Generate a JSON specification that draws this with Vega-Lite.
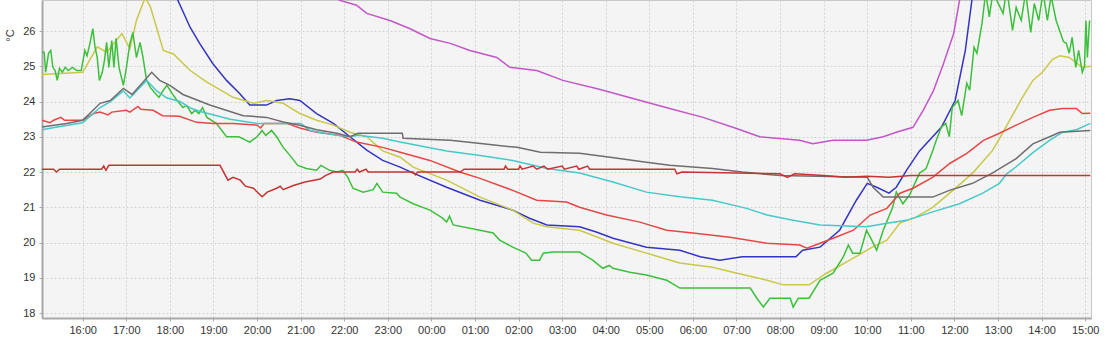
{
  "$schema": "https://vega.github.io/schema/vega-lite/v6.json",
  "width": 1049,
  "height": 318,
  "autosize": {"type": "none"},
  "padding": {"left": 42, "top": 0, "right": 19, "bottom": 22},
  "background": "#ffffff",
  "config": {
    "view": {"fill": "#f4f4f4", "stroke": "#c8c8c8"},
    "font": "Liberation Sans",
    "axis": {
      "labelFont": "Liberation Sans", "labelFontSize": 11, "labelColor": "#333333",
      "domainColor": "#a8a8a8", "domainWidth": 2, "tickColor": "#a8a8a8", "tickSize": 3,
      "gridColor": "#d4d4d4", "gridDash": [2, 2], "gridWidth": 1
    }
  },
  "data": {
    "values": [
      {"s":"mag","t":"2024-01-01T15:04","v":28.6},{"s":"mag","t":"2024-01-01T18:00","v":29.5},{"s":"mag","t":"2024-01-01T20:00","v":28.2},{"s":"mag","t":"2024-01-01T21:30","v":27.2},{"s":"mag","t":"2024-01-01T21:54","v":26.87},{"s":"mag","t":"2024-01-01T22:17","v":26.73},{"s":"mag","t":"2024-01-01T22:31","v":26.5},{"s":"mag","t":"2024-01-01T23:03","v":26.3},{"s":"mag","t":"2024-01-01T23:30","v":26.07},{"s":"mag","t":"2024-01-01T23:58","v":25.79},{"s":"mag","t":"2024-01-02T00:26","v":25.65},{"s":"mag","t":"2024-01-02T00:53","v":25.45},{"s":"mag","t":"2024-01-02T01:30","v":25.25},{"s":"mag","t":"2024-01-02T01:48","v":24.97},{"s":"mag","t":"2024-01-02T02:25","v":24.88},{"s":"mag","t":"2024-01-02T03:01","v":24.6},{"s":"mag","t":"2024-01-02T03:47","v":24.37},{"s":"mag","t":"2024-01-02T04:00","v":24.3},{"s":"mag","t":"2024-01-02T04:35","v":24.1},{"s":"mag","t":"2024-01-02T05:28","v":23.8},{"s":"mag","t":"2024-01-02T06:14","v":23.55},{"s":"mag","t":"2024-01-02T06:59","v":23.24},{"s":"mag","t":"2024-01-02T07:32","v":23.0},{"s":"mag","t":"2024-01-02T08:27","v":22.9},{"s":"mag","t":"2024-01-02T08:45","v":22.8},{"s":"mag","t":"2024-01-02T09:13","v":22.9},{"s":"mag","t":"2024-01-02T09:59","v":22.9},{"s":"mag","t":"2024-01-02T10:22","v":23.0},{"s":"mag","t":"2024-01-02T10:40","v":23.13},{"s":"mag","t":"2024-01-02T11:03","v":23.27},{"s":"mag","t":"2024-01-02T11:17","v":23.75},{"s":"mag","t":"2024-01-02T11:31","v":24.3},{"s":"mag","t":"2024-01-02T11:45","v":25.08},{"s":"mag","t":"2024-01-02T11:59","v":25.93},{"s":"mag","t":"2024-01-02T12:07","v":26.87},{"s":"mag","t":"2024-01-02T12:30","v":28.5},{"s":"mag","t":"2024-01-02T15:08","v":30},

      {"s":"blu","t":"2024-01-01T15:04","v":27.5},{"s":"blu","t":"2024-01-01T16:30","v":28.5},{"s":"blu","t":"2024-01-01T17:30","v":29.5},{"s":"blu","t":"2024-01-01T18:00","v":27.6},{"s":"blu","t":"2024-01-01T18:11","v":26.87},{"s":"blu","t":"2024-01-01T18:28","v":26.1},{"s":"blu","t":"2024-01-01T18:41","v":25.65},{"s":"blu","t":"2024-01-01T18:59","v":25.08},{"s":"blu","t":"2024-01-01T19:18","v":24.6},{"s":"blu","t":"2024-01-01T19:36","v":24.23},{"s":"blu","t":"2024-01-01T19:50","v":23.9},{"s":"blu","t":"2024-01-01T20:13","v":23.9},{"s":"blu","t":"2024-01-01T20:27","v":24.03},{"s":"blu","t":"2024-01-01T20:45","v":24.08},{"s":"blu","t":"2024-01-01T20:59","v":24.03},{"s":"blu","t":"2024-01-01T21:22","v":23.66},{"s":"blu","t":"2024-01-01T21:45","v":23.38},{"s":"blu","t":"2024-01-01T22:08","v":23.0},{"s":"blu","t":"2024-01-01T22:31","v":22.62},{"s":"blu","t":"2024-01-01T22:53","v":22.33},{"s":"blu","t":"2024-01-01T23:17","v":22.14},{"s":"blu","t":"2024-01-01T23:35","v":21.97},{"s":"blu","t":"2024-01-02T00:21","v":21.57},{"s":"blu","t":"2024-01-02T01:07","v":21.2},{"s":"blu","t":"2024-01-02T01:52","v":20.92},{"s":"blu","t":"2024-01-02T02:15","v":20.69},{"s":"blu","t":"2024-01-02T02:39","v":20.5},{"s":"blu","t":"2024-01-02T03:24","v":20.45},{"s":"blu","t":"2024-01-02T03:47","v":20.3},{"s":"blu","t":"2024-01-02T04:10","v":20.12},{"s":"blu","t":"2024-01-02T04:56","v":19.87},{"s":"blu","t":"2024-01-02T05:42","v":19.78},{"s":"blu","t":"2024-01-02T06:10","v":19.6},{"s":"blu","t":"2024-01-02T06:37","v":19.5},{"s":"blu","t":"2024-01-02T07:08","v":19.6},{"s":"blu","t":"2024-01-02T08:22","v":19.6},{"s":"blu","t":"2024-01-02T08:31","v":19.78},{"s":"blu","t":"2024-01-02T08:55","v":19.87},{"s":"blu","t":"2024-01-02T09:22","v":20.35},{"s":"blu","t":"2024-01-02T09:45","v":21.2},{"s":"blu","t":"2024-01-02T10:00","v":21.68},{"s":"blu","t":"2024-01-02T10:13","v":21.57},{"s":"blu","t":"2024-01-02T10:30","v":21.4},{"s":"blu","t":"2024-01-02T10:40","v":21.57},{"s":"blu","t":"2024-01-02T10:54","v":22.05},{"s":"blu","t":"2024-01-02T11:12","v":22.6},{"s":"blu","t":"2024-01-02T11:42","v":23.27},{"s":"blu","t":"2024-01-02T12:01","v":24.03},{"s":"blu","t":"2024-01-02T12:15","v":25.45},{"s":"blu","t":"2024-01-02T12:24","v":26.87},{"s":"blu","t":"2024-01-02T12:45","v":29},{"s":"blu","t":"2024-01-02T15:08","v":31},

      {"s":"yel","t":"2024-01-01T15:04","v":24.77},{"s":"yel","t":"2024-01-01T16:00","v":24.83},{"s":"yel","t":"2024-01-01T16:20","v":25.55},{"s":"yel","t":"2024-01-01T16:33","v":25.4},{"s":"yel","t":"2024-01-01T16:54","v":25.93},{"s":"yel","t":"2024-01-01T17:05","v":25.5},{"s":"yel","t":"2024-01-01T17:14","v":26.3},{"s":"yel","t":"2024-01-01T17:26","v":26.95},{"s":"yel","t":"2024-01-01T17:33","v":26.7},{"s":"yel","t":"2024-01-01T17:51","v":25.45},{"s":"yel","t":"2024-01-01T18:05","v":25.35},{"s":"yel","t":"2024-01-01T18:28","v":24.88},{"s":"yel","t":"2024-01-01T18:51","v":24.55},{"s":"yel","t":"2024-01-01T19:27","v":24.12},{"s":"yel","t":"2024-01-01T19:55","v":23.95},{"s":"yel","t":"2024-01-01T20:13","v":24.03},{"s":"yel","t":"2024-01-01T20:36","v":23.95},{"s":"yel","t":"2024-01-01T20:59","v":23.66},{"s":"yel","t":"2024-01-01T21:22","v":23.47},{"s":"yel","t":"2024-01-01T21:45","v":23.33},{"s":"yel","t":"2024-01-01T22:08","v":23.13},{"s":"yel","t":"2024-01-01T22:31","v":23.0},{"s":"yel","t":"2024-01-01T22:53","v":22.6},{"s":"yel","t":"2024-01-01T23:17","v":22.42},{"s":"yel","t":"2024-01-01T23:35","v":22.14},{"s":"yel","t":"2024-01-02T00:21","v":21.77},{"s":"yel","t":"2024-01-02T01:07","v":21.29},{"s":"yel","t":"2024-01-02T01:52","v":20.92},{"s":"yel","t":"2024-01-02T02:20","v":20.55},{"s":"yel","t":"2024-01-02T02:39","v":20.45},{"s":"yel","t":"2024-01-02T03:24","v":20.35},{"s":"yel","t":"2024-01-02T04:10","v":19.98},{"s":"yel","t":"2024-01-02T04:56","v":19.7},{"s":"yel","t":"2024-01-02T05:42","v":19.42},{"s":"yel","t":"2024-01-02T06:27","v":19.3},{"s":"yel","t":"2024-01-02T06:55","v":19.16},{"s":"yel","t":"2024-01-02T07:42","v":18.93},{"s":"yel","t":"2024-01-02T08:05","v":18.8},{"s":"yel","t":"2024-01-02T08:40","v":18.8},{"s":"yel","t":"2024-01-02T09:04","v":19.13},{"s":"yel","t":"2024-01-02T09:36","v":19.5},{"s":"yel","t":"2024-01-02T10:07","v":19.87},{"s":"yel","t":"2024-01-02T10:27","v":20.07},{"s":"yel","t":"2024-01-02T10:45","v":20.55},{"s":"yel","t":"2024-01-02T11:07","v":20.72},{"s":"yel","t":"2024-01-02T11:30","v":21.0},{"s":"yel","t":"2024-01-02T11:58","v":21.48},{"s":"yel","t":"2024-01-02T12:25","v":21.97},{"s":"yel","t":"2024-01-02T12:52","v":22.6},{"s":"yel","t":"2024-01-02T13:02","v":22.95},{"s":"yel","t":"2024-01-02T13:25","v":23.8},{"s":"yel","t":"2024-01-02T13:33","v":24.1},{"s":"yel","t":"2024-01-02T13:48","v":24.6},{"s":"yel","t":"2024-01-02T14:01","v":24.83},{"s":"yel","t":"2024-01-02T14:15","v":25.2},{"s":"yel","t":"2024-01-02T14:25","v":25.3},{"s":"yel","t":"2024-01-02T14:38","v":25.25},{"s":"yel","t":"2024-01-02T14:56","v":24.97},{"s":"yel","t":"2024-01-02T15:08","v":25.0},

      {"s":"grn","t":"2024-01-01T15:04","v":25.4},{"s":"grn","t":"2024-01-01T15:07","v":25.4},{"s":"grn","t":"2024-01-01T15:09","v":24.83},{"s":"grn","t":"2024-01-01T15:13","v":25.37},{"s":"grn","t":"2024-01-01T15:16","v":25.45},{"s":"grn","t":"2024-01-01T15:19","v":24.97},{"s":"grn","t":"2024-01-01T15:22","v":24.88},{"s":"grn","t":"2024-01-01T15:25","v":24.6},{"s":"grn","t":"2024-01-01T15:28","v":24.94},{"s":"grn","t":"2024-01-01T15:32","v":24.83},{"s":"grn","t":"2024-01-01T15:36","v":24.97},{"s":"grn","t":"2024-01-01T15:40","v":24.88},{"s":"grn","t":"2024-01-01T15:46","v":24.97},{"s":"grn","t":"2024-01-01T15:52","v":24.88},{"s":"grn","t":"2024-01-01T15:58","v":24.88},{"s":"grn","t":"2024-01-01T16:03","v":25.45},{"s":"grn","t":"2024-01-01T16:06","v":25.3},{"s":"grn","t":"2024-01-01T16:10","v":25.65},{"s":"grn","t":"2024-01-01T16:14","v":26.07},{"s":"grn","t":"2024-01-01T16:17","v":25.54},{"s":"grn","t":"2024-01-01T16:20","v":25.25},{"s":"grn","t":"2024-01-01T16:23","v":24.6},{"s":"grn","t":"2024-01-01T16:27","v":24.83},{"s":"grn","t":"2024-01-01T16:30","v":25.17},{"s":"grn","t":"2024-01-01T16:33","v":25.68},{"s":"grn","t":"2024-01-01T16:36","v":24.97},{"s":"grn","t":"2024-01-01T16:40","v":25.73},{"s":"grn","t":"2024-01-01T16:43","v":24.97},{"s":"grn","t":"2024-01-01T16:46","v":25.79},{"s":"grn","t":"2024-01-01T16:50","v":24.97},{"s":"grn","t":"2024-01-01T16:56","v":24.46},{"s":"grn","t":"2024-01-01T17:00","v":24.94},{"s":"grn","t":"2024-01-01T17:05","v":25.65},{"s":"grn","t":"2024-01-01T17:09","v":25.96},{"s":"grn","t":"2024-01-01T17:14","v":25.25},{"s":"grn","t":"2024-01-01T17:19","v":25.68},{"s":"grn","t":"2024-01-01T17:23","v":25.25},{"s":"grn","t":"2024-01-01T17:28","v":24.6},{"s":"grn","t":"2024-01-01T17:33","v":24.4},{"s":"grn","t":"2024-01-01T17:40","v":24.23},{"s":"grn","t":"2024-01-01T17:45","v":24.12},{"s":"grn","t":"2024-01-01T17:51","v":24.32},{"s":"grn","t":"2024-01-01T17:56","v":24.46},{"s":"grn","t":"2024-01-01T18:03","v":24.23},{"s":"grn","t":"2024-01-01T18:10","v":24.03},{"s":"grn","t":"2024-01-01T18:18","v":23.83},{"s":"grn","t":"2024-01-01T18:23","v":23.89},{"s":"grn","t":"2024-01-01T18:30","v":23.66},{"s":"grn","t":"2024-01-01T18:35","v":23.75},{"s":"grn","t":"2024-01-01T18:40","v":23.66},{"s":"grn","t":"2024-01-01T18:45","v":23.83},{"s":"grn","t":"2024-01-01T18:51","v":23.55},{"s":"grn","t":"2024-01-01T19:04","v":23.38},{"s":"grn","t":"2024-01-01T19:18","v":23.0},{"s":"grn","t":"2024-01-01T19:35","v":23.0},{"s":"grn","t":"2024-01-01T19:50","v":22.85},{"s":"grn","t":"2024-01-01T20:00","v":23.0},{"s":"grn","t":"2024-01-01T20:07","v":23.18},{"s":"grn","t":"2024-01-01T20:12","v":23.04},{"s":"grn","t":"2024-01-01T20:20","v":23.18},{"s":"grn","t":"2024-01-01T20:27","v":23.0},{"s":"grn","t":"2024-01-01T20:36","v":22.7},{"s":"grn","t":"2024-01-01T20:45","v":22.48},{"s":"grn","t":"2024-01-01T20:56","v":22.19},{"s":"grn","t":"2024-01-01T21:08","v":22.1},{"s":"grn","t":"2024-01-01T21:22","v":22.05},{"s":"grn","t":"2024-01-01T21:28","v":22.19},{"s":"grn","t":"2024-01-01T21:40","v":22.05},{"s":"grn","t":"2024-01-01T21:50","v":22.0},{"s":"grn","t":"2024-01-01T21:58","v":22.05},{"s":"grn","t":"2024-01-01T22:05","v":21.85},{"s":"grn","t":"2024-01-01T22:12","v":21.54},{"s":"grn","t":"2024-01-01T22:26","v":21.43},{"s":"grn","t":"2024-01-01T22:40","v":21.5},{"s":"grn","t":"2024-01-01T22:45","v":21.68},{"s":"grn","t":"2024-01-01T22:53","v":21.43},{"s":"grn","t":"2024-01-01T23:12","v":21.4},{"s":"grn","t":"2024-01-01T23:17","v":21.29},{"s":"grn","t":"2024-01-01T23:35","v":21.1},{"s":"grn","t":"2024-01-01T23:58","v":20.92},{"s":"grn","t":"2024-01-02T00:15","v":20.7},{"s":"grn","t":"2024-01-02T00:21","v":20.58},{"s":"grn","t":"2024-01-02T00:25","v":20.75},{"s":"grn","t":"2024-01-02T00:30","v":20.5},{"s":"grn","t":"2024-01-02T01:07","v":20.35},{"s":"grn","t":"2024-01-02T01:25","v":20.27},{"s":"grn","t":"2024-01-02T01:34","v":20.07},{"s":"grn","t":"2024-01-02T01:52","v":19.87},{"s":"grn","t":"2024-01-02T02:10","v":19.7},{"s":"grn","t":"2024-01-02T02:18","v":19.5},{"s":"grn","t":"2024-01-02T02:29","v":19.5},{"s":"grn","t":"2024-01-02T02:34","v":19.7},{"s":"grn","t":"2024-01-02T02:47","v":19.73},{"s":"grn","t":"2024-01-02T03:24","v":19.73},{"s":"grn","t":"2024-01-02T03:42","v":19.5},{"s":"grn","t":"2024-01-02T03:56","v":19.27},{"s":"grn","t":"2024-01-02T04:05","v":19.35},{"s":"grn","t":"2024-01-02T04:10","v":19.27},{"s":"grn","t":"2024-01-02T04:33","v":19.16},{"s":"grn","t":"2024-01-02T04:56","v":19.08},{"s":"grn","t":"2024-01-02T05:24","v":18.93},{"s":"grn","t":"2024-01-02T05:42","v":18.71},{"s":"grn","t":"2024-01-02T07:19","v":18.71},{"s":"grn","t":"2024-01-02T07:28","v":18.42},{"s":"grn","t":"2024-01-02T07:37","v":18.17},{"s":"grn","t":"2024-01-02T07:46","v":18.42},{"s":"grn","t":"2024-01-02T08:14","v":18.42},{"s":"grn","t":"2024-01-02T08:18","v":18.17},{"s":"grn","t":"2024-01-02T08:25","v":18.42},{"s":"grn","t":"2024-01-02T08:40","v":18.42},{"s":"grn","t":"2024-01-02T08:55","v":18.93},{"s":"grn","t":"2024-01-02T09:13","v":19.13},{"s":"grn","t":"2024-01-02T09:27","v":19.59},{"s":"grn","t":"2024-01-02T09:34","v":19.93},{"s":"grn","t":"2024-01-02T09:40","v":19.7},{"s":"grn","t":"2024-01-02T09:50","v":19.7},{"s":"grn","t":"2024-01-02T09:59","v":20.35},{"s":"grn","t":"2024-01-02T10:05","v":20.12},{"s":"grn","t":"2024-01-02T10:13","v":19.78},{"s":"grn","t":"2024-01-02T10:22","v":20.35},{"s":"grn","t":"2024-01-02T10:35","v":21.0},{"s":"grn","t":"2024-01-02T10:40","v":21.43},{"s":"grn","t":"2024-01-02T10:49","v":21.1},{"s":"grn","t":"2024-01-02T10:58","v":21.34},{"s":"grn","t":"2024-01-02T11:12","v":21.97},{"s":"grn","t":"2024-01-02T11:21","v":22.1},{"s":"grn","t":"2024-01-02T11:30","v":22.6},{"s":"grn","t":"2024-01-02T11:35","v":22.9},{"s":"grn","t":"2024-01-02T11:42","v":23.27},{"s":"grn","t":"2024-01-02T11:48","v":23.38},{"s":"grn","t":"2024-01-02T11:53","v":23.0},{"s":"grn","t":"2024-01-02T11:57","v":23.83},{"s":"grn","t":"2024-01-02T12:05","v":24.03},{"s":"grn","t":"2024-01-02T12:10","v":23.6},{"s":"grn","t":"2024-01-02T12:17","v":24.52},{"s":"grn","t":"2024-01-02T12:21","v":24.32},{"s":"grn","t":"2024-01-02T12:27","v":25.54},{"s":"grn","t":"2024-01-02T12:31","v":25.37},{"s":"grn","t":"2024-01-02T12:38","v":26.22},{"s":"grn","t":"2024-01-02T12:43","v":27.1},{"s":"grn","t":"2024-01-02T12:48","v":26.4},{"s":"grn","t":"2024-01-02T12:53","v":27.1},{"s":"grn","t":"2024-01-02T13:00","v":26.8},{"s":"grn","t":"2024-01-02T13:07","v":26.5},{"s":"grn","t":"2024-01-02T13:12","v":27.2},{"s":"grn","t":"2024-01-02T13:20","v":26.02},{"s":"grn","t":"2024-01-02T13:25","v":26.67},{"s":"grn","t":"2024-01-02T13:32","v":26.3},{"s":"grn","t":"2024-01-02T13:38","v":27.1},{"s":"grn","t":"2024-01-02T13:45","v":25.96},{"s":"grn","t":"2024-01-02T13:50","v":26.78},{"s":"grn","t":"2024-01-02T13:56","v":26.3},{"s":"grn","t":"2024-01-02T14:02","v":27.1},{"s":"grn","t":"2024-01-02T14:08","v":26.3},{"s":"grn","t":"2024-01-02T14:13","v":27.0},{"s":"grn","t":"2024-01-02T14:20","v":26.3},{"s":"grn","t":"2024-01-02T14:25","v":26.0},{"s":"grn","t":"2024-01-02T14:30","v":25.7},{"s":"grn","t":"2024-01-02T14:34","v":25.65},{"s":"grn","t":"2024-01-02T14:38","v":25.37},{"s":"grn","t":"2024-01-02T14:42","v":25.82},{"s":"grn","t":"2024-01-02T14:47","v":24.97},{"s":"grn","t":"2024-01-02T14:51","v":25.45},{"s":"grn","t":"2024-01-02T14:56","v":24.83},{"s":"grn","t":"2024-01-02T14:59","v":25.0},{"s":"grn","t":"2024-01-02T15:01","v":26.3},{"s":"grn","t":"2024-01-02T15:03","v":25.25},{"s":"grn","t":"2024-01-02T15:06","v":26.3},

      {"s":"red","t":"2024-01-01T15:04","v":23.47},{"s":"red","t":"2024-01-01T15:15","v":23.4},{"s":"red","t":"2024-01-01T15:20","v":23.47},{"s":"red","t":"2024-01-01T15:30","v":23.55},{"s":"red","t":"2024-01-01T15:35","v":23.47},{"s":"red","t":"2024-01-01T16:00","v":23.47},{"s":"red","t":"2024-01-01T16:15","v":23.66},{"s":"red","t":"2024-01-01T16:24","v":23.7},{"s":"red","t":"2024-01-01T16:35","v":23.62},{"s":"red","t":"2024-01-01T16:40","v":23.7},{"s":"red","t":"2024-01-01T17:00","v":23.75},{"s":"red","t":"2024-01-01T17:05","v":23.7},{"s":"red","t":"2024-01-01T17:16","v":23.86},{"s":"red","t":"2024-01-01T17:20","v":23.78},{"s":"red","t":"2024-01-01T17:37","v":23.75},{"s":"red","t":"2024-01-01T17:50","v":23.6},{"s":"red","t":"2024-01-01T18:13","v":23.58},{"s":"red","t":"2024-01-01T18:37","v":23.41},{"s":"red","t":"2024-01-01T19:00","v":23.38},{"s":"red","t":"2024-01-01T19:27","v":23.38},{"s":"red","t":"2024-01-01T20:00","v":23.33},{"s":"red","t":"2024-01-01T20:05","v":23.25},{"s":"red","t":"2024-01-01T20:10","v":23.38},{"s":"red","t":"2024-01-01T20:41","v":23.38},{"s":"red","t":"2024-01-01T21:00","v":23.24},{"s":"red","t":"2024-01-01T21:22","v":23.13},{"s":"red","t":"2024-01-01T21:54","v":23.04},{"s":"red","t":"2024-01-01T22:17","v":22.85},{"s":"red","t":"2024-01-01T22:53","v":22.7},{"s":"red","t":"2024-01-01T23:17","v":22.56},{"s":"red","t":"2024-01-01T23:58","v":22.33},{"s":"red","t":"2024-01-02T00:39","v":22.0},{"s":"red","t":"2024-01-02T01:07","v":21.82},{"s":"red","t":"2024-01-02T01:52","v":21.48},{"s":"red","t":"2024-01-02T02:25","v":21.2},{"s":"red","t":"2024-01-02T03:06","v":21.15},{"s":"red","t":"2024-01-02T03:24","v":21.0},{"s":"red","t":"2024-01-02T04:01","v":20.78},{"s":"red","t":"2024-01-02T04:47","v":20.58},{"s":"red","t":"2024-01-02T05:24","v":20.35},{"s":"red","t":"2024-01-02T06:00","v":20.27},{"s":"red","t":"2024-01-02T06:51","v":20.15},{"s":"red","t":"2024-01-02T07:42","v":19.98},{"s":"red","t":"2024-01-02T08:27","v":19.93},{"s":"red","t":"2024-01-02T08:37","v":19.84},{"s":"red","t":"2024-01-02T08:55","v":19.98},{"s":"red","t":"2024-01-02T09:13","v":20.12},{"s":"red","t":"2024-01-02T09:41","v":20.35},{"s":"red","t":"2024-01-02T10:04","v":20.78},{"s":"red","t":"2024-01-02T10:27","v":20.97},{"s":"red","t":"2024-01-02T10:45","v":21.4},{"s":"red","t":"2024-01-02T11:03","v":21.54},{"s":"red","t":"2024-01-02T11:30","v":21.85},{"s":"red","t":"2024-01-02T11:54","v":22.25},{"s":"red","t":"2024-01-02T12:17","v":22.53},{"s":"red","t":"2024-01-02T12:40","v":22.9},{"s":"red","t":"2024-01-02T13:02","v":23.1},{"s":"red","t":"2024-01-02T13:25","v":23.33},{"s":"red","t":"2024-01-02T13:48","v":23.55},{"s":"red","t":"2024-01-02T14:11","v":23.75},{"s":"red","t":"2024-01-02T14:29","v":23.8},{"s":"red","t":"2024-01-02T14:48","v":23.8},{"s":"red","t":"2024-01-02T14:56","v":23.66},{"s":"red","t":"2024-01-02T15:07","v":23.67},

      {"s":"cyn","t":"2024-01-01T15:04","v":23.2},{"s":"cyn","t":"2024-01-01T15:25","v":23.28},{"s":"cyn","t":"2024-01-01T16:00","v":23.4},{"s":"cyn","t":"2024-01-01T16:24","v":23.83},{"s":"cyn","t":"2024-01-01T16:38","v":24.0},{"s":"cyn","t":"2024-01-01T16:56","v":24.3},{"s":"cyn","t":"2024-01-01T17:05","v":24.1},{"s":"cyn","t":"2024-01-01T17:28","v":24.6},{"s":"cyn","t":"2024-01-01T17:42","v":24.3},{"s":"cyn","t":"2024-01-01T17:56","v":24.1},{"s":"cyn","t":"2024-01-01T18:14","v":24.0},{"s":"cyn","t":"2024-01-01T18:30","v":23.8},{"s":"cyn","t":"2024-01-01T18:42","v":23.72},{"s":"cyn","t":"2024-01-01T19:23","v":23.5},{"s":"cyn","t":"2024-01-01T20:00","v":23.38},{"s":"cyn","t":"2024-01-01T21:00","v":23.38},{"s":"cyn","t":"2024-01-01T21:13","v":23.18},{"s":"cyn","t":"2024-01-01T21:50","v":23.04},{"s":"cyn","t":"2024-01-01T22:08","v":23.0},{"s":"cyn","t":"2024-01-01T22:19","v":23.04},{"s":"cyn","t":"2024-01-01T22:53","v":22.96},{"s":"cyn","t":"2024-01-01T23:17","v":22.85},{"s":"cyn","t":"2024-01-02T00:21","v":22.6},{"s":"cyn","t":"2024-01-02T01:07","v":22.47},{"s":"cyn","t":"2024-01-02T01:52","v":22.33},{"s":"cyn","t":"2024-01-02T02:39","v":22.1},{"s":"cyn","t":"2024-01-02T03:24","v":21.97},{"s":"cyn","t":"2024-01-02T04:10","v":21.72},{"s":"cyn","t":"2024-01-02T04:56","v":21.43},{"s":"cyn","t":"2024-01-02T05:42","v":21.3},{"s":"cyn","t":"2024-01-02T06:27","v":21.2},{"s":"cyn","t":"2024-01-02T07:14","v":20.97},{"s":"cyn","t":"2024-01-02T07:42","v":20.78},{"s":"cyn","t":"2024-01-02T08:18","v":20.63},{"s":"cyn","t":"2024-01-02T08:55","v":20.5},{"s":"cyn","t":"2024-01-02T09:59","v":20.45},{"s":"cyn","t":"2024-01-02T10:27","v":20.55},{"s":"cyn","t":"2024-01-02T10:54","v":20.63},{"s":"cyn","t":"2024-01-02T11:30","v":20.87},{"s":"cyn","t":"2024-01-02T12:07","v":21.1},{"s":"cyn","t":"2024-01-02T12:39","v":21.4},{"s":"cyn","t":"2024-01-02T13:02","v":21.68},{"s":"cyn","t":"2024-01-02T13:12","v":21.95},{"s":"cyn","t":"2024-01-02T13:25","v":22.15},{"s":"cyn","t":"2024-01-02T13:48","v":22.55},{"s":"cyn","t":"2024-01-02T14:11","v":22.9},{"s":"cyn","t":"2024-01-02T14:29","v":23.13},{"s":"cyn","t":"2024-01-02T14:48","v":23.2},{"s":"cyn","t":"2024-01-02T15:07","v":23.38},

      {"s":"gry","t":"2024-01-01T15:04","v":23.28},{"s":"gry","t":"2024-01-01T15:38","v":23.38},{"s":"gry","t":"2024-01-01T16:00","v":23.47},{"s":"gry","t":"2024-01-01T16:24","v":23.95},{"s":"gry","t":"2024-01-01T16:38","v":24.03},{"s":"gry","t":"2024-01-01T16:56","v":24.37},{"s":"gry","t":"2024-01-01T17:08","v":24.2},{"s":"gry","t":"2024-01-01T17:35","v":24.83},{"s":"gry","t":"2024-01-01T17:46","v":24.6},{"s":"gry","t":"2024-01-01T18:00","v":24.46},{"s":"gry","t":"2024-01-01T18:18","v":24.2},{"s":"gry","t":"2024-01-01T18:55","v":23.9},{"s":"gry","t":"2024-01-01T19:41","v":23.6},{"s":"gry","t":"2024-01-01T20:13","v":23.55},{"s":"gry","t":"2024-01-01T20:36","v":23.42},{"s":"gry","t":"2024-01-01T20:59","v":23.33},{"s":"gry","t":"2024-01-01T21:22","v":23.2},{"s":"gry","t":"2024-01-01T21:50","v":23.1},{"s":"gry","t":"2024-01-01T22:08","v":23.0},{"s":"gry","t":"2024-01-01T22:19","v":23.1},{"s":"gry","t":"2024-01-01T23:20","v":23.1},{"s":"gry","t":"2024-01-01T23:21","v":22.96},{"s":"gry","t":"2024-01-02T00:26","v":22.9},{"s":"gry","t":"2024-01-02T01:11","v":22.8},{"s":"gry","t":"2024-01-02T01:58","v":22.7},{"s":"gry","t":"2024-01-02T02:30","v":22.56},{"s":"gry","t":"2024-01-02T03:24","v":22.53},{"s":"gry","t":"2024-01-02T04:06","v":22.42},{"s":"gry","t":"2024-01-02T04:56","v":22.28},{"s":"gry","t":"2024-01-02T05:28","v":22.19},{"s":"gry","t":"2024-01-02T06:27","v":22.1},{"s":"gry","t":"2024-01-02T07:08","v":22.0},{"s":"gry","t":"2024-01-02T08:00","v":21.9},{"s":"gry","t":"2024-01-02T10:00","v":21.85},{"s":"gry","t":"2024-01-02T10:08","v":21.57},{"s":"gry","t":"2024-01-02T10:22","v":21.29},{"s":"gry","t":"2024-01-02T11:30","v":21.29},{"s":"gry","t":"2024-01-02T11:53","v":21.48},{"s":"gry","t":"2024-01-02T12:25","v":21.68},{"s":"gry","t":"2024-01-02T12:52","v":21.97},{"s":"gry","t":"2024-01-02T13:25","v":22.38},{"s":"gry","t":"2024-01-02T13:48","v":22.8},{"s":"gry","t":"2024-01-02T14:11","v":23.0},{"s":"gry","t":"2024-01-02T14:25","v":23.13},{"s":"gry","t":"2024-01-02T15:07","v":23.18},

      {"s":"dred","t":"2024-01-01T15:04","v":22.08},{"s":"dred","t":"2024-01-01T15:20","v":22.08},{"s":"dred","t":"2024-01-01T15:24","v":22.0},{"s":"dred","t":"2024-01-01T15:28","v":22.08},{"s":"dred","t":"2024-01-01T16:26","v":22.08},{"s":"dred","t":"2024-01-01T16:29","v":22.17},{"s":"dred","t":"2024-01-01T16:32","v":22.05},{"s":"dred","t":"2024-01-01T16:36","v":22.19},{"s":"dred","t":"2024-01-01T19:09","v":22.19},{"s":"dred","t":"2024-01-01T19:20","v":21.77},{"s":"dred","t":"2024-01-01T19:27","v":21.85},{"s":"dred","t":"2024-01-01T19:37","v":21.77},{"s":"dred","t":"2024-01-01T19:44","v":21.6},{"s":"dred","t":"2024-01-01T19:55","v":21.54},{"s":"dred","t":"2024-01-01T20:02","v":21.4},{"s":"dred","t":"2024-01-01T20:07","v":21.3},{"s":"dred","t":"2024-01-01T20:14","v":21.43},{"s":"dred","t":"2024-01-01T20:27","v":21.54},{"s":"dred","t":"2024-01-01T20:32","v":21.6},{"s":"dred","t":"2024-01-01T20:36","v":21.5},{"s":"dred","t":"2024-01-01T20:50","v":21.62},{"s":"dred","t":"2024-01-01T21:06","v":21.72},{"s":"dred","t":"2024-01-01T21:27","v":21.8},{"s":"dred","t":"2024-01-01T21:34","v":21.9},{"s":"dred","t":"2024-01-01T21:45","v":22.0},{"s":"dred","t":"2024-01-01T22:15","v":22.0},{"s":"dred","t":"2024-01-01T22:18","v":22.08},{"s":"dred","t":"2024-01-01T22:21","v":22.0},{"s":"dred","t":"2024-01-01T22:30","v":22.08},{"s":"dred","t":"2024-01-01T22:33","v":22.0},{"s":"dred","t":"2024-01-01T23:35","v":22.0},{"s":"dred","t":"2024-01-01T23:38","v":21.92},{"s":"dred","t":"2024-01-01T23:41","v":22.0},{"s":"dred","t":"2024-01-02T00:40","v":22.0},{"s":"dred","t":"2024-01-02T00:45","v":22.08},{"s":"dred","t":"2024-01-02T01:40","v":22.08},{"s":"dred","t":"2024-01-02T01:42","v":22.17},{"s":"dred","t":"2024-01-02T01:45","v":22.08},{"s":"dred","t":"2024-01-02T02:00","v":22.08},{"s":"dred","t":"2024-01-02T02:02","v":22.17},{"s":"dred","t":"2024-01-02T02:05","v":22.08},{"s":"dred","t":"2024-01-02T02:20","v":22.17},{"s":"dred","t":"2024-01-02T02:25","v":22.08},{"s":"dred","t":"2024-01-02T02:35","v":22.17},{"s":"dred","t":"2024-01-02T02:40","v":22.08},{"s":"dred","t":"2024-01-02T03:00","v":22.17},{"s":"dred","t":"2024-01-02T03:03","v":22.08},{"s":"dred","t":"2024-01-02T03:20","v":22.17},{"s":"dred","t":"2024-01-02T03:23","v":22.08},{"s":"dred","t":"2024-01-02T03:35","v":22.17},{"s":"dred","t":"2024-01-02T03:38","v":22.08},{"s":"dred","t":"2024-01-02T05:35","v":22.08},{"s":"dred","t":"2024-01-02T05:38","v":21.95},{"s":"dred","t":"2024-01-02T05:45","v":22.0},{"s":"dred","t":"2024-01-02T08:00","v":21.95},{"s":"dred","t":"2024-01-02T08:10","v":21.85},{"s":"dred","t":"2024-01-02T08:20","v":21.95},{"s":"dred","t":"2024-01-02T09:00","v":21.9},{"s":"dred","t":"2024-01-02T09:30","v":21.85},{"s":"dred","t":"2024-01-02T10:00","v":21.88},{"s":"dred","t":"2024-01-02T10:30","v":21.85},{"s":"dred","t":"2024-01-02T11:00","v":21.9},{"s":"dred","t":"2024-01-02T15:07","v":21.9}
    ]
  },
  "mark": {"type": "line", "clip": true, "strokeWidth": 1.5},
  "encoding": {
    "x": {
      "field": "t", "type": "temporal",
      "scale": {"domain": ["2024-01-01T15:04", "2024-01-02T15:08"]},
      "axis": {"title": null, "format": "%H:%M", "tickCount": 24, "labelOverlap": false, "labelFlush": false, "labelPadding": 3}
    },
    "y": {
      "field": "v", "type": "quantitative",
      "scale": {"domain": [17.86, 26.88], "nice": false, "zero": false},
      "axis": {"title": "°C", "values": [18, 19, 20, 21, 22, 23, 24, 25, 26], "labelPadding": 4, "titleFontSize": 11, "titleFontWeight": "normal", "titleColor": "#333333", "titleX": -32, "titleY": 35, "titleAngle": -90, "titleAlign": "center", "titleBaseline": "middle"}
    },
    "color": {
      "field": "s", "type": "nominal", "legend": null,
      "scale": {"domain": ["mag", "blu", "yel", "grn", "red", "cyn", "gry", "dred"], "range": ["#c455c8", "#3434c4", "#c8c84a", "#3cc03c", "#e84545", "#48c8c8", "#6e6e6e", "#c83232"]}
    }
  }
}
